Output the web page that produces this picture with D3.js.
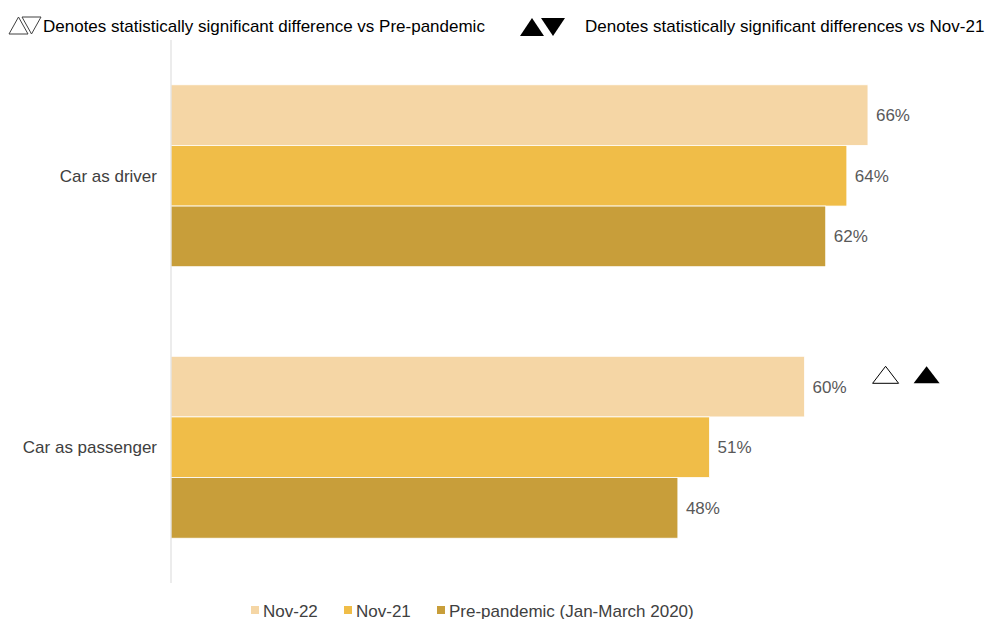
<!DOCTYPE html>
<html>
<head>
<meta charset="utf-8">
<script src="https://cdn.jsdelivr.net/npm/d3@7"></script>
<style>
  body { margin: 0; background: #fff; }
  svg { font-family: "Liberation Sans", Arial, sans-serif; }
  .lbl { font-size: 17px; fill: #595959; }
  .cat { font-size: 17px; fill: #404040; }
  .note { font-size: 17px; fill: #000; }
</style>
</head>
<body>
<svg width="986" height="619"></svg>
<script>
var categories = ['Car as driver', 'Car as passenger'];
var seriesNames = ['Nov-22', 'Nov-21', 'Pre-pandemic (Jan-March 2020)'];
var nov22 = [66, 60];
var nov21 = [64, 51];
var prePandemic = [62, 48];
var colours = ['#F5D6A5', '#F0BD48', '#C89E3A'];
// significance markers on Nov-22 bars: [vs pre-pandemic, vs Nov-21]
var sigMarks = [[null, null], ['up', 'up']];

var rows = [];
categories.forEach(function(c, i) {
    [nov22, nov21, prePandemic].forEach(function(s, j) {
        rows.push({ cat: c, series: seriesNames[j], value: s[i], idx: j });
    });
});

var svg = d3.select('svg');

var xScale = d3.scaleLinear()
    .domain([0, 100])
    .range([171, 1227]);

var yScale = d3.scaleBand()
    .domain(categories)
    .range([40, 583])
    .paddingInner(0.33)
    .paddingOuter(0.165);

var sScale = d3.scaleBand()
    .domain(seriesNames)
    .range([0, yScale.bandwidth()]);

svg.selectAll('rect.bar')
    .data(rows)
    .enter()
    .append('rect')
    .attr('class', 'bar')
    .attr('x', xScale(0))
    .attr('y', function(d){ return yScale(d.cat) + sScale(d.series); })
    .attr('width', function(d){ return xScale(d.value) - xScale(0); })
    .attr('height', sScale.bandwidth())
    .style('fill', function(d){ return colours[d.idx]; })
    .style('stroke', '#fff')
    .style('stroke-width', 0.8);

svg.selectAll('text.lbl')
    .data(rows)
    .enter()
    .append('text')
    .attr('class', 'lbl')
    .attr('x', function(d){ return xScale(d.value) + 8; })
    .attr('y', function(d){ return yScale(d.cat) + sScale(d.series) + sScale.bandwidth() / 2 + 6; })
    .text(function(d){ return d.value + '%'; });

// axis line
svg.append('line')
    .attr('x1', xScale(0)).attr('x2', xScale(0))
    .attr('y1', 40).attr('y2', 583)
    .style('stroke', '#d9d9d9')
    .style('stroke-width', 1);

svg.selectAll('text.cat')
    .data(categories)
    .enter()
    .append('text')
    .attr('class', 'cat')
    .attr('x', 157)
    .attr('y', function(d){ return yScale(d) + yScale.bandwidth() / 2 + 6; })
    .attr('text-anchor', 'end')
    .text(function(d){ return d; });

function tri(x, y, w, h, up) {
    return up
        ? 'M' + x + ',' + (y + h) + 'L' + (x + w / 2) + ',' + y + 'L' + (x + w) + ',' + (y + h) + 'Z'
        : 'M' + x + ',' + y + 'L' + (x + w / 2) + ',' + (y + h) + 'L' + (x + w) + ',' + y + 'Z';
}

// significance markers
categories.forEach(function(c, i) {
    var m = sigMarks[i];
    var yy = yScale(c) + sScale('Nov-22') + 10;
    var x0 = xScale(nov22[i]) + 68;
    if (m[0]) {
        svg.append('path')
            .attr('d', tri(x0, yy, 26, 17, m[0] === 'up'))
            .style('fill', '#fff').style('stroke', '#000').style('stroke-width', 1);
    }
    if (m[1]) {
        svg.append('path')
            .attr('d', tri(x0 + 41, yy, 26, 17, m[1] === 'up'))
            .style('fill', '#000');
    }
});

// header notes
svg.append('path').attr('d', tri(9, 17, 19, 17, true))
    .style('fill', 'none').style('stroke', '#404040').style('stroke-width', 1);
svg.append('path').attr('d', tri(22, 17, 19, 17, false))
    .style('fill', 'none').style('stroke', '#404040').style('stroke-width', 1);
svg.append('text').attr('class', 'note').attr('x', 43).attr('y', 32)
    .text('Denotes statistically significant difference vs Pre-pandemic');

svg.append('path').attr('d', tri(520, 18, 24, 18, true)).style('fill', '#000');
svg.append('path').attr('d', tri(541, 18, 24, 18, false)).style('fill', '#000');
svg.append('text').attr('class', 'note').attr('x', 585).attr('y', 32)
    .text('Denotes statistically significant differences vs Nov-21');

// legend
var legendX = [251, 344, 437];
var legend = svg.selectAll('g.legend')
    .data(seriesNames)
    .enter()
    .append('g')
    .attr('class', 'legend')
    .attr('transform', function(d, i){ return 'translate(' + legendX[i] + ',603)'; });

legend.append('rect')
    .attr('width', 8).attr('height', 8).attr('y', 3)
    .style('fill', function(d, i){ return colours[i]; });

legend.append('text')
    .attr('class', 'lbl')
    .attr('x', 12).attr('y', 14)
    .style('fill', '#404040')
    .text(function(d){ return d; });
</script>
</body>
</html>
